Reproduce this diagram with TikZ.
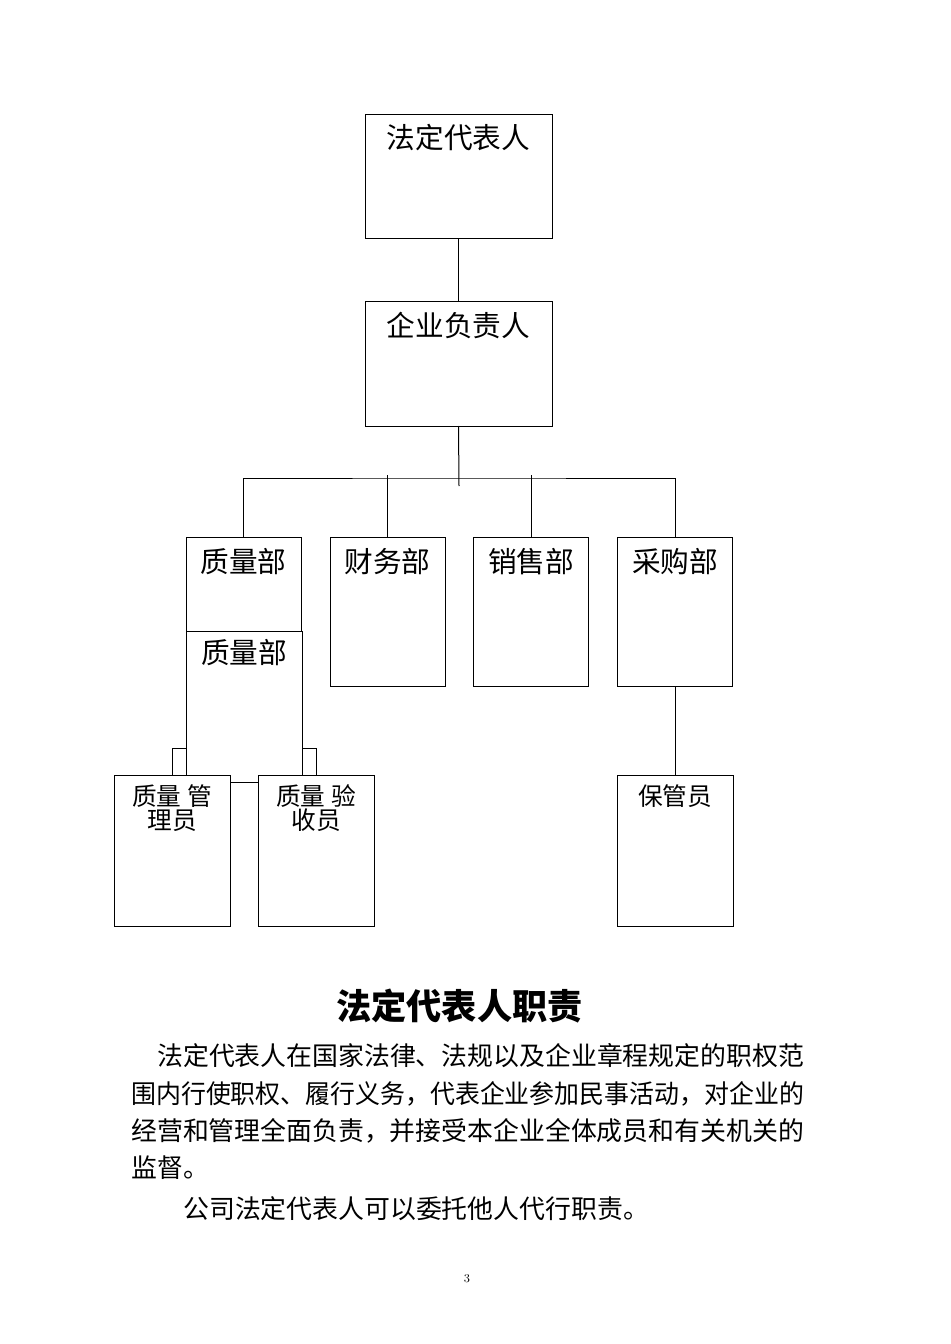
\documentclass[tikz,border=0pt]{standalone}
\usepackage{fontspec}
\newfontfamily\cjk{Noto Sans CJK SC}
\usepackage{tikz}
\usetikzlibrary{calc}

\begin{document}
\begin{tikzpicture}[
    x=0.75pt, y=-0.75pt,
    every node/.style={font=\cjk},
    box/.style={draw, fill=white, rectangle, inner sep=0pt, outer sep=0pt, line width=0.75pt},
    bigbox/.style={box, minimum width=140.25pt, minimum height=93pt},
    dept/.style={box, minimum width=86.25pt, minimum height=111.75pt},
    staff/.style={box, minimum width=87pt, minimum height=113.25pt},
    boxtext/.style={inner sep=0pt, font=\cjk\fontsize{21.5}{21.5}\selectfont},
    stafftext/.style={inner sep=0pt, align=center, font=\cjk\fontsize{18.5}{18}\selectfont},
    bodytext/.style={inner sep=0pt, anchor=west, font=\cjk\fontsize{19.4}{19.4}\selectfont},
    link/.style={line width=0.75pt}
]
    \useasboundingbox (0,0) rectangle (950,1344);

    % Top of the chart
    \node[bigbox] (fdr) at (458.5,177) {};
    \node[boxtext] (fdr-t) at (458.5,138) {法定代表人};
    \node[bigbox] (qyfz) at (458.5,364) {};
    \node[boxtext] (qyfz-t) at (458.5,326) {企业负责人};

    % Departments
    \node[box, minimum width=86.25pt, minimum height=70.5pt] (zlb) at (243.5,584) {};
    \node[box, minimum width=87pt, minimum height=113.25pt] (zlb2) at (244,706.5) {};
    \node[dept] (cwb) at (387.5,611.5) {};
    \node[dept] (xsb) at (531,611.5) {};
    \node[dept] (cgb) at (675,611.5) {};
    \node[boxtext] (zlb-t) at (243.5,562) {质量部};
    \node[boxtext] (zlb2-t) at (244,653) {质量部};
    \node[boxtext] (cwb-t) at (387.5,562) {财务部};
    \node[boxtext] (xsb-t) at (531,562) {销售部};
    \node[boxtext] (cgb-t) at (675,562) {采购部};

    % Staff
    \node[staff] (zlgl) at (172,850.5) {};
    \node[staff] (zlys) at (316,850.5) {};
    \node[staff] (bgy) at (675,850.5) {};
    \node[stafftext] (zlgl-t) at (172,808) {质量 管\\理员};
    \node[stafftext] (zlys-t) at (316,808) {质量 验\\收员};
    \node[stafftext] (bgy-t) at (675,796) {保管员};

    % Lines
    \coordinate (trunk) at (459,486);
    \coordinate (bus) at (459,478);
    \coordinate (brk) at (0,748);
    \draw[link] (fdr.south) -- (qyfz.north);
    \draw[link] (qyfz.south) -- (trunk);
    \draw[link] (zlb.north) |- (bus) -| (cgb.north);
    \draw[link] (cwb.north) -- ($(cwb.north |- bus)+(0,-3)$);
    \draw[link] (xsb.north) -- ($(xsb.north |- bus)+(0,-3)$);
    \draw[link] (zlgl.north) |- (zlb2.west |- brk);
    \draw[link] (zlys.north) |- (zlb2.east |- brk);
    \draw[link] (cgb.south) -- (bgy.north);

    % Duties
    \node[inner sep=0pt, font=\cjk\bfseries\fontsize{26.4}{26.4}\selectfont] (title) at (459.5,1006) {法定代表人职责};
    \node[bodytext] (p1) at (157,1056) {\resizebox{485pt}{\height}{法定代表人在国家法律、法规以及企业章程规定的职权范}};
    \node[bodytext] (p2) at (131,1094) {\resizebox{504.5pt}{\height}{围内行使职权、履行义务，代表企业参加民事活动，对企业的}};
    \node[bodytext] (p3) at (131,1131) {\resizebox{504.5pt}{\height}{经营和管理全面负责，并接受本企业全体成员和有关机关的}};
    \node[bodytext] (p4) at (131,1168) {监督。};
    \node[bodytext] (p5) at (183,1209) {公司法定代表人可以委托他人代行职责。};

    \node[inner sep=0pt, font=\rmfamily\fontsize{9}{9}\selectfont] (pgnum) at (467,1279) {3};
\end{tikzpicture}
\end{document}
